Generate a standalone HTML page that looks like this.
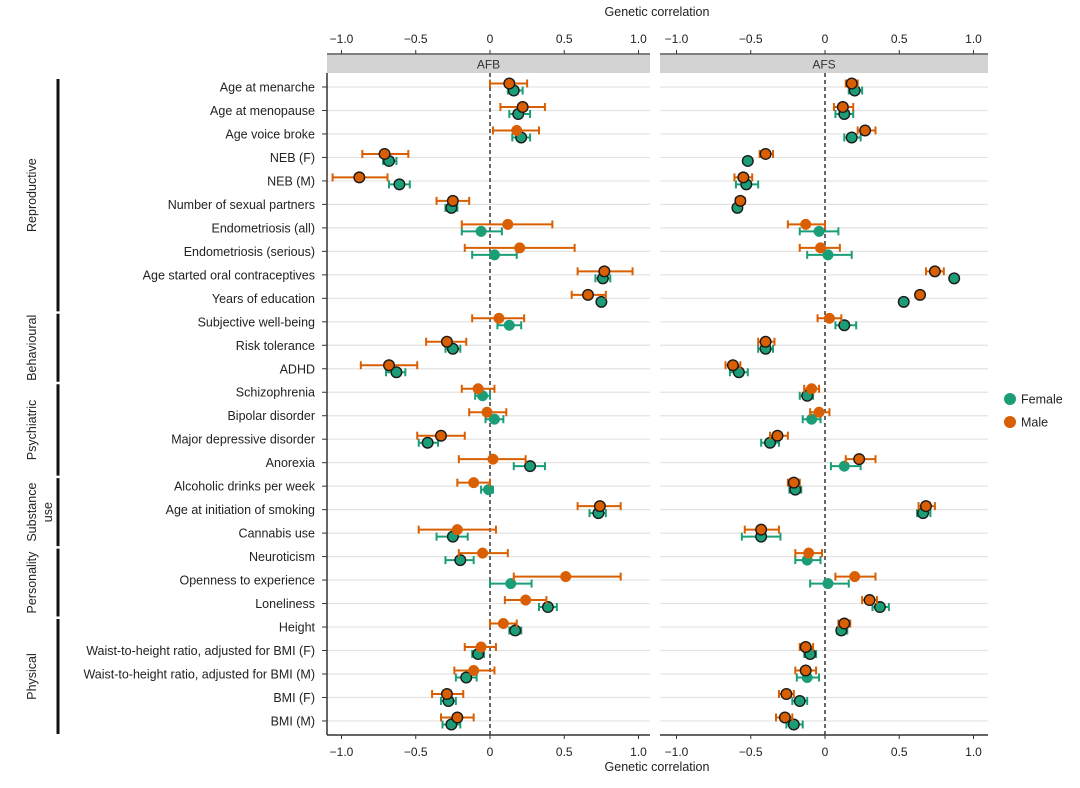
<!DOCTYPE html>
<html><head><meta charset="utf-8"><style>
html,body{margin:0;padding:0;background:#fff;}
svg{display:block;font-family:"Liberation Sans",sans-serif;}
</style></head><body>
<svg id="chart" width="1080" height="788" viewBox="0 0 1080 788"></svg>
<script>
const traits=["Age at menarche","Age at menopause","Age voice broke","NEB (F)","NEB (M)","Number of sexual partners","Endometriosis (all)","Endometriosis (serious)","Age started oral contraceptives","Years of education","Subjective well-being","Risk tolerance","ADHD","Schizophrenia","Bipolar disorder","Major depressive disorder","Anorexia","Alcoholic drinks per week","Age at initiation of smoking","Cannabis use","Neuroticism","Openness to experience","Loneliness","Height","Waist-to-height ratio, adjusted for BMI (F)","Waist-to-height ratio, adjusted for BMI (M)","BMI (F)","BMI (M)"];
const ticks=[-1,-0.5,0,0.5,1];
const tickLabels=["\u22121.0","\u22120.5","0","0.5","1.0"];
// AFB: male
const afbM=[0.13,0.22,0.18,-0.71,-0.88,-0.25,0.12,0.20,0.77,0.66,0.06,-0.29,-0.68,-0.08,-0.02,-0.33,0.02,-0.11,0.74,-0.22,-0.05,0.51,0.24,0.09,-0.06,-0.11,-0.29,-0.22];
const afbMlo=[0,0.07,0.02,-0.86,-1.06,-0.36,-0.19,-0.17,0.59,0.55,-0.12,-0.43,-0.87,-0.19,-0.14,-0.49,-0.21,-0.22,0.59,-0.48,-0.21,0.16,0.10,0,-0.17,-0.24,-0.39,-0.33];
const afbMhi=[0.25,0.37,0.33,-0.55,-0.69,-0.14,0.42,0.57,0.96,0.78,0.23,-0.16,-0.49,0.03,0.11,-0.17,0.24,0,0.88,0.04,0.12,0.88,0.38,0.18,0.04,0.03,-0.18,-0.11];
const afbMsig=[1,1,0,1,1,1,0,0,1,1,0,1,1,0,0,1,0,0,1,0,0,0,0,0,0,0,1,1];
// AFB: female
const afbF=[0.16,0.19,0.21,-0.68,-0.61,-0.26,-0.06,0.03,0.76,0.75,0.13,-0.25,-0.63,-0.05,0.03,-0.42,0.27,-0.01,0.73,-0.25,-0.20,0.14,0.39,0.17,-0.08,-0.16,-0.28,-0.26];
const afbFlo=[0.12,0.13,0.15,-0.72,-0.68,-0.30,-0.19,-0.12,0.71,0.75,0.05,-0.30,-0.70,-0.10,-0.03,-0.48,0.16,-0.06,0.67,-0.36,-0.30,0,0.33,0.13,-0.12,-0.23,-0.33,-0.32];
const afbFhi=[0.22,0.27,0.27,-0.63,-0.54,-0.22,0.08,0.18,0.81,0.75,0.21,-0.20,-0.57,0,0.09,-0.35,0.37,0.02,0.78,-0.15,-0.11,0.28,0.45,0.21,-0.04,-0.09,-0.23,-0.20];
const afbFsig=[1,1,1,1,1,1,0,0,1,1,0,1,1,0,0,1,1,0,1,1,1,0,1,1,1,1,1,1];
// AFS: male
const afsM=[0.18,0.12,0.27,-0.40,-0.55,-0.57,-0.13,-0.03,0.74,0.64,0.03,-0.40,-0.62,-0.09,-0.04,-0.32,0.23,-0.21,0.68,-0.43,-0.11,0.20,0.30,0.13,-0.13,-0.13,-0.26,-0.27];
const afsMlo=[0.14,0.06,0.22,-0.44,-0.61,-0.60,-0.25,-0.17,0.68,0.64,-0.05,-0.45,-0.67,-0.14,-0.10,-0.37,0.14,-0.25,0.63,-0.54,-0.20,0.07,0.25,0.09,-0.17,-0.20,-0.31,-0.33];
const afsMhi=[0.22,0.19,0.34,-0.35,-0.49,-0.54,0,0.10,0.80,0.64,0.11,-0.34,-0.57,-0.04,0.03,-0.25,0.34,-0.17,0.74,-0.31,-0.02,0.34,0.35,0.17,-0.08,-0.06,-0.21,-0.22];
const afsMsig=[1,1,1,1,1,1,0,0,1,1,0,1,1,0,0,1,1,1,1,1,0,0,1,1,1,1,1,1];
// AFS: female
const afsF=[0.20,0.13,0.18,-0.52,-0.53,-0.59,-0.04,0.02,0.87,0.53,0.13,-0.40,-0.58,-0.12,-0.09,-0.37,0.13,-0.20,0.66,-0.43,-0.12,0.02,0.37,0.11,-0.10,-0.12,-0.17,-0.21];
const afsFlo=[0.16,0.07,0.13,-0.52,-0.60,-0.59,-0.17,-0.12,0.87,0.53,0.07,-0.45,-0.64,-0.17,-0.15,-0.43,0.04,-0.24,0.62,-0.56,-0.20,-0.10,0.32,0.08,-0.14,-0.19,-0.22,-0.26];
const afsFhi=[0.25,0.19,0.24,-0.52,-0.45,-0.59,0.09,0.18,0.87,0.53,0.21,-0.35,-0.52,-0.08,-0.03,-0.31,0.24,-0.16,0.71,-0.30,-0.03,0.16,0.43,0.15,-0.06,-0.04,-0.12,-0.15];
const afsFsig=[1,1,1,1,1,1,0,0,1,1,1,1,1,1,0,1,0,1,1,1,0,0,1,1,1,0,1,1];
const groups=["Reproductive","Behavioural","Psychiatric","Substance use","Personality","Physical"];
const groupStart=[0,10,13,17,20,23];
const groupEnd=[9,12,16,19,22,27];

const NS="http://www.w3.org/2000/svg";
const svg=document.getElementById('chart');
function mk(tag,attrs,parent){const e=document.createElementNS(NS,tag);for(const k in attrs)e.setAttribute(k,attrs[k]);(parent||svg).appendChild(e);return e;}
const ORANGE="#d95f02",GREEN="#1b9e77";
const y0=87,dy=23.48;
const rowY=i=>y0+i*dy;
const panels=[{name:"AFB",x0:327,x1:650,zero:490,M:afbM,Mlo:afbMlo,Mhi:afbMhi,Ms:afbMsig,F:afbF,Flo:afbFlo,Fhi:afbFhi,Fs:afbFsig},
{name:"AFS",x0:660,x1:988,zero:825,M:afsM,Mlo:afsMlo,Mhi:afsMhi,Ms:afsMsig,F:afsF,Flo:afsFlo,Fhi:afsFhi,Fs:afsFsig}];
const scale=148.5;
const topY=55,botY=735;
let t=mk('text',{x:657,y:16,'font-size':12.5,'text-anchor':'middle',fill:'#222'});
t.textContent="Genetic correlation";
t=mk('text',{x:657,y:771,'font-size':12.5,'text-anchor':'middle',fill:'#222'});
t.textContent="Genetic correlation";

panels.forEach((p,pi)=>{
  const xs=v=>p.zero+v*scale;
  const g=mk('g',{});
  
  
  const strip=mk('rect',{x:p.x0,y:topY,width:p.x1-p.x0,height:18,fill:'#d3d3d3'},g);
  
  
  const st=mk('text',{x:(p.x0+p.x1)/2,y:topY+13.5,'font-size':12,'text-anchor':'middle',fill:'#333'},g);
  
  
  st.textContent=p.name;
  traits.forEach((tr,i)=>{mk('line',{x1:p.x0,x2:p.x1,y1:rowY(i),y2:rowY(i),stroke:'#e3e3e3','stroke-width':1.2},g);});
  mk('line',{x1:p.x0,x2:p.x1,y1:topY-1,y2:topY-1,stroke:'#333','stroke-width':1.2},g);
  mk('line',{x1:p.x0,x2:p.x1,y1:botY,y2:botY,stroke:'#333','stroke-width':1.5},g);
  ticks.forEach((v,k)=>{
    mk('line',{x1:xs(v),x2:xs(v),y1:topY-5,y2:topY-1,stroke:'#333'},g);
    mk('line',{x1:xs(v),x2:xs(v),y1:botY,y2:botY+4,stroke:'#333'},g);
    let a=mk('text',{x:xs(v),y:43,'font-size':12,'text-anchor':'middle',fill:'#222'},g);
    a.textContent=tickLabels[k];
    a=mk('text',{x:xs(v),y:756,'font-size':12,'text-anchor':'middle',fill:'#222'},g);
    a.textContent=tickLabels[k];
  });
  mk('line',{x1:xs(0),x2:xs(0),y1:topY+18,y2:botY,stroke:'#444','stroke-width':1.6,'stroke-dasharray':'4,3'},g);
  function series(vals,lo,hi,sig,col,off,nm){
    vals.forEach((v,i)=>{
      const y=rowY(i)+off;
      const eb=mk('g',{},g);
      
      
      mk('line',{x1:xs(lo[i]),x2:xs(hi[i]),y1:y,y2:y,stroke:col,'stroke-width':2},eb);
      mk('line',{x1:xs(lo[i]),x2:xs(lo[i]),y1:y-4,y2:y+4,stroke:col,'stroke-width':2},eb);
      mk('line',{x1:xs(hi[i]),x2:xs(hi[i]),y1:y-4,y2:y+4,stroke:col,'stroke-width':2},eb);
      const c=mk('circle',{cx:xs(v),cy:y,r:5.3,fill:col,stroke:sig[i]?'#1a1a1a':col,'stroke-width':sig[i]?1.4:0.5},g);
      
      
    });
  }
  series(p.F,p.Flo,p.Fhi,p.Fs,GREEN,3.5,'female');
  series(p.M,p.Mlo,p.Mhi,p.Ms,ORANGE,-3.5,'male');
});
// left axis
mk('line',{x1:327,x2:327,y1:topY+18,y2:botY,stroke:'#333','stroke-width':1.5});
traits.forEach((tr,i)=>{
  mk('line',{x1:322,x2:327,y1:rowY(i),y2:rowY(i),stroke:'#333'});
  const l=mk('text',{x:315,y:rowY(i)+4.5,'font-size':12.5,'text-anchor':'end',fill:'#222'});
  
  
  l.textContent=tr;
});
groups.forEach((gname,k)=>{
  const ya=rowY(groupStart[k])-8,yb=rowY(groupEnd[k])+13;
  const b=mk('line',{x1:58,x2:58,y1:ya,y2:yb,stroke:'#111','stroke-width':3});
  
  
  const cy=(ya+yb)/2;
  if(gname==="Substance use"){
    let a=mk('text',{x:0,y:0,'font-size':12.5,'text-anchor':'middle',fill:'#222',transform:`translate(36,${cy}) rotate(-90)`});
    a.textContent="Substance";
    a=mk('text',{x:0,y:0,'font-size':12.5,'text-anchor':'middle',fill:'#222',transform:`translate(52,${cy}) rotate(-90)`});
    a.textContent="use";
  } else {
    const a=mk('text',{x:0,y:0,'font-size':12.5,'text-anchor':'middle',fill:'#222',transform:`translate(36,${cy}) rotate(-90)`});
    a.textContent=gname;
  }
});
// legend
[["Female",GREEN,399],["Male",ORANGE,422]].forEach(([n,c,y])=>{
  const lg=mk('g',{});
  
  
  mk('circle',{cx:1010,cy:y,r:6,fill:c},lg);
  const tx=mk('text',{x:1021,y:y+4.5,'font-size':12.5,fill:'#222'},lg);
  tx.textContent=n;
});
</script>
</body></html>
